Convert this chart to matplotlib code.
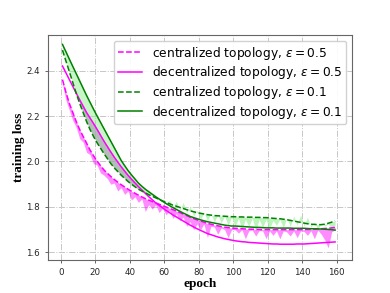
import numpy as np
import matplotlib
matplotlib.use("Agg")
import matplotlib.pyplot as plt

# epochs 1, 3, 5, ..., 159
epochs = np.arange(1, 161, 2)

# smoothed curves
dec_01 = [2.515, 2.483, 2.45, 2.418, 2.386, 2.354, 2.322, 2.29, 2.26, 2.23,
          2.201, 2.173, 2.145, 2.117, 2.089, 2.061, 2.033, 2.005, 1.982, 1.96,
          1.941, 1.923, 1.905, 1.891, 1.878, 1.867, 1.856, 1.845, 1.835, 1.825,
          1.815, 1.806, 1.797, 1.789, 1.781, 1.773, 1.766, 1.758, 1.753, 1.748,
          1.743, 1.739, 1.735, 1.732, 1.729, 1.726, 1.723, 1.72, 1.718, 1.716,
          1.716, 1.715, 1.714, 1.713, 1.712, 1.711, 1.71, 1.71, 1.709, 1.708,
          1.708, 1.708, 1.707, 1.707, 1.707, 1.707, 1.707, 1.706, 1.706, 1.706,
          1.706, 1.705, 1.704, 1.704, 1.703, 1.703, 1.702, 1.701, 1.70, 1.698]
cen_01 = [2.49, 2.442, 2.395, 2.347, 2.299, 2.255, 2.215, 2.175, 2.14, 2.11,
          2.083, 2.059, 2.035, 2.013, 1.991, 1.972, 1.956, 1.94, 1.926, 1.912,
          1.90, 1.889, 1.878, 1.87, 1.862, 1.854, 1.847, 1.84, 1.833, 1.826,
          1.82, 1.814, 1.808, 1.803, 1.798, 1.793, 1.788, 1.783, 1.779, 1.775,
          1.772, 1.769, 1.766, 1.764, 1.762, 1.761, 1.76, 1.759, 1.758, 1.757,
          1.757, 1.756, 1.756, 1.755, 1.755, 1.755, 1.754, 1.754, 1.753, 1.753,
          1.752, 1.75, 1.749, 1.748, 1.746, 1.744, 1.741, 1.738, 1.735, 1.732,
          1.729, 1.726, 1.724, 1.723, 1.722, 1.722, 1.724, 1.728, 1.733, 1.738]
dec_05 = [2.42, 2.39, 2.36, 2.33, 2.30, 2.271, 2.243, 2.215, 2.191, 2.167,
          2.142, 2.116, 2.09, 2.066, 2.042, 2.019, 1.998, 1.977, 1.958, 1.939,
          1.922, 1.906, 1.89, 1.875, 1.86, 1.845, 1.832, 1.818, 1.807, 1.796,
          1.785, 1.775, 1.765, 1.756, 1.747, 1.738, 1.729, 1.72, 1.712, 1.704,
          1.697, 1.69, 1.683, 1.678, 1.673, 1.668, 1.664, 1.66, 1.657, 1.654,
          1.651, 1.649, 1.647, 1.646, 1.644, 1.643, 1.642, 1.641, 1.64, 1.639,
          1.638, 1.637, 1.637, 1.636, 1.636, 1.636, 1.636, 1.636, 1.637, 1.637,
          1.637, 1.638, 1.639, 1.64, 1.641, 1.642, 1.643, 1.644, 1.645, 1.646]
cen_05 = [2.36, 2.305, 2.255, 2.215, 2.175, 2.14, 2.11, 2.08, 2.05, 2.025,
          2.002, 1.982, 1.963, 1.948, 1.934, 1.921, 1.909, 1.898, 1.888, 1.878,
          1.869, 1.86, 1.852, 1.844, 1.837, 1.83, 1.824, 1.818, 1.812, 1.806,
          1.80, 1.794, 1.788, 1.782, 1.775, 1.769, 1.762, 1.755, 1.749, 1.743,
          1.738, 1.733, 1.728, 1.724, 1.72, 1.717, 1.714, 1.711, 1.709, 1.707,
          1.706, 1.705, 1.704, 1.703, 1.702, 1.702, 1.701, 1.701, 1.70, 1.70,
          1.70, 1.70, 1.70, 1.70, 1.70, 1.70, 1.70, 1.70, 1.70, 1.70,
          1.70, 1.701, 1.701, 1.702, 1.703, 1.704, 1.705, 1.706, 1.708, 1.71]

# raw (noisy) losses, centralized eps=0.5 over all epochs
raw_05 = [2.34, 2.27, 2.225, 2.18, 2.15, 2.10, 2.085, 2.04, 2.03, 1.99,
          1.985, 1.95, 1.94, 1.925, 1.90, 1.905, 1.87, 1.885, 1.855, 1.87,
          1.83, 1.845, 1.82, 1.835, 1.78, 1.81, 1.79, 1.81, 1.775, 1.795,
          1.765, 1.785, 1.75, 1.77, 1.74, 1.755, 1.715, 1.735, 1.70, 1.725,
          1.70, 1.725, 1.665, 1.715, 1.712, 1.68, 1.708, 1.70, 1.665, 1.70,
          1.70, 1.685, 1.70, 1.66, 1.695, 1.698, 1.672, 1.696, 1.695, 1.66,
          1.695, 1.675, 1.695, 1.66, 1.695, 1.69, 1.672, 1.695, 1.665, 1.695,
          1.692, 1.675, 1.695, 1.66, 1.698, 1.68, 1.655, 1.62, 1.69, 1.70]
# raw losses, centralized eps=0.1 from epoch 55 on
raw_01 = [1.845, 1.83, 1.835, 1.81, 1.83, 1.80, 1.825, 1.785, 1.82, 1.775,
          1.80, 1.76, 1.785, 1.745, 1.775, 1.74, 1.77, 1.735, 1.765, 1.73,
          1.76, 1.72, 1.755, 1.715, 1.75, 1.70, 1.745, 1.715, 1.75, 1.695,
          1.745, 1.71, 1.745, 1.705, 1.74, 1.72, 1.745, 1.71, 1.75, 1.715,
          1.76, 1.72, 1.765, 1.715, 1.755, 1.71, 1.735, 1.70, 1.73, 1.715,
          1.725, 1.705, 1.72]

dec_01 = np.array(dec_01)
cen_01 = np.array(cen_01)
dec_05 = np.array(dec_05)
cen_05 = np.array(cen_05)
late = epochs >= 55

fig = plt.figure(figsize=(3.9, 2.93), dpi=100)
ax = fig.add_subplot(111)
fig.subplots_adjust(left=0.123, right=0.903, bottom=0.113, top=0.881)

ax.fill_between(epochs, dec_01, cen_01, where=epochs <= 61, color='lightgreen', alpha=0.5, lw=0, interpolate=True)
ax.fill_between(epochs, dec_05, cen_01, where=dec_05 >= cen_01, color='#a898b0', alpha=0.6, lw=0, interpolate=True)
ax.fill_between(epochs[late], cen_01[late], raw_01, color='lightgreen', alpha=0.6, lw=0)
ax.fill_between(epochs, cen_05, raw_05, color='magenta', alpha=0.45, lw=0)

lw = 1.1
ax.plot(epochs, cen_05, '--', color='magenta', lw=lw, label=r'centralized topology, $\varepsilon=0.5$')
ax.plot(epochs, dec_05, '-', color='magenta', lw=lw, label=r'decentralized topology, $\varepsilon=0.5$')
ax.plot(epochs, cen_01, '--', color='green', lw=lw, label=r'centralized topology, $\varepsilon=0.1$')
ax.plot(epochs, dec_01, '-', color='green', lw=lw, label=r'decentralized topology, $\varepsilon=0.1$')

ax.set_xlim(-7.4, 168.9)
ax.set_ylim(1.567, 2.557)
ax.set_xticks(range(0, 161, 20))
ax.set_yticks([1.6, 1.8, 2.0, 2.2, 2.4])
ax.tick_params(labelsize=6.3, length=2.2, width=0.6, color='0.3', labelcolor='0.15')
ax.grid(True, linestyle='-.', color='0.78', lw=0.7)
ax.set_axisbelow(True)
for s in ax.spines.values():
    s.set_color('0.4')
    s.set_linewidth(0.8)

ax.set_xlabel('epoch', fontfamily='Liberation Serif', fontweight='bold', fontsize=9.5, labelpad=1)
ax.set_ylabel('training loss', fontfamily='Liberation Serif', fontweight='bold', fontsize=9.5, labelpad=1)

ax.legend(loc='upper right', fontsize=8.8, framealpha=0.9, edgecolor='0.8',
          labelspacing=0.22, borderpad=0.3, handlelength=2.0, handletextpad=0.8)

fig.savefig('out.png', dpi=100)
